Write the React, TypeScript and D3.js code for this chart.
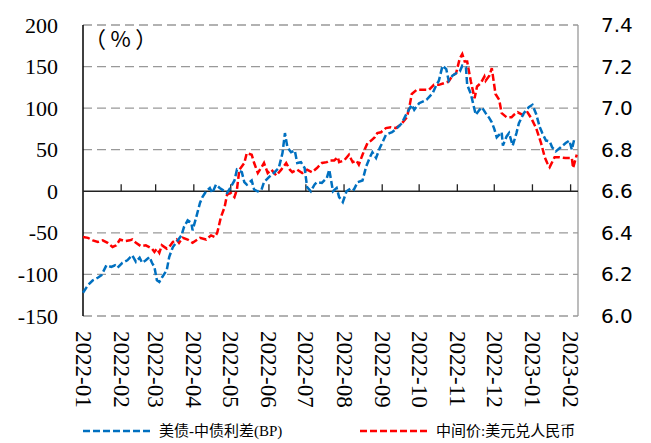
import React from "react";
import * as d3 from "d3";

const monthLabels = ["2022-01","2022-02","2022-03","2022-04","2022-05","2022-06","2022-07","2022-08","2022-09","2022-10","2022-11","2022-12","2023-01","2023-02"];
const leftTicks = [-150, -100, -50, 0, 50, 100, 150, 200];
const rightTicks = [6.0, 6.2, 6.4, 6.6, 6.8, 7.0, 7.2, 7.4];

const spreadDates = [
"2022-01-01","2022-01-05","2022-01-09","2022-01-13","2022-01-16","2022-01-20","2022-01-24","2022-01-27","2022-01-29","2022-02-02","2022-02-06","2022-02-10","2022-02-13","2022-02-16","2022-02-18","2022-02-21","2022-02-24","2022-02-26","2022-02-28",
"2022-03-02","2022-03-04","2022-03-06","2022-03-10","2022-03-12","2022-03-15","2022-03-18","2022-03-22","2022-03-24","2022-03-27","2022-03-30","2022-03-31",
"2022-04-03","2022-04-06","2022-04-08","2022-04-11","2022-04-14","2022-04-16","2022-04-19","2022-04-22","2022-04-26","2022-04-28",
"2022-05-01","2022-05-04","2022-05-06","2022-05-10","2022-05-12","2022-05-14","2022-05-18","2022-05-20","2022-05-23","2022-05-26","2022-05-28",
"2022-06-01","2022-06-05","2022-06-09","2022-06-12","2022-06-14","2022-06-16","2022-06-19","2022-06-22","2022-06-24","2022-06-27","2022-06-30",
"2022-07-02","2022-07-05","2022-07-08","2022-07-10","2022-07-14","2022-07-18","2022-07-20","2022-07-23","2022-07-26","2022-07-28","2022-07-31",
"2022-08-03","2022-08-07","2022-08-09","2022-08-12","2022-08-16","2022-08-19","2022-08-22","2022-08-24","2022-08-27","2022-08-30",
"2022-09-01","2022-09-04","2022-09-07","2022-09-09","2022-09-13","2022-09-17","2022-09-21","2022-09-25","2022-09-27",
"2022-10-01","2022-10-07","2022-10-12","2022-10-15","2022-10-17","2022-10-20","2022-10-23","2022-10-25","2022-10-28","2022-10-31",
"2022-11-03","2022-11-05","2022-11-08","2022-11-09","2022-11-12","2022-11-15","2022-11-16","2022-11-19","2022-11-21","2022-11-24","2022-11-27","2022-11-29",
"2022-12-01","2022-12-03","2022-12-07","2022-12-08","2022-12-11","2022-12-13","2022-12-16","2022-12-19","2022-12-21","2022-12-25","2022-12-29",
"2023-01-01","2023-01-04","2023-01-07","2023-01-09","2023-01-12","2023-01-15","2023-01-17","2023-01-20","2023-01-24","2023-01-28","2023-01-31","2023-02-02","2023-02-04"
];
const spreadValues = [
-122,-113,-107,-104,-101,-89,-91,-89,-92,-86,-83,-77,-85,-80,-86,-83,-79,-86,-91,
-107,-109,-104,-95,-79,-67,-61,-53,-43,-35,-38,-47,
-31,-14,-7,0,4,-2,8,4,0,-2,
5,13,26,23,11,8,13,2,0,2,11,
17,22,28,46,70,53,47,49,34,35,28,
5,0,8,11,10,16,26,0,4,-7,-13,
0,4,2,11,13,30,41,47,40,52,
58,68,70,71,76,82,94,104,98,
106,110,118,128,133,151,147,133,139,142,
144,151,149,128,117,98,92,98,101,94,88,83,
75,65,71,55,66,70,55,70,82,94,101,
104,93,77,70,61,60,53,48,53,58,61,50,63
];

const cnyDates = [
"2022-01-01","2022-01-05","2022-01-09","2022-01-13","2022-01-17","2022-01-21","2022-01-25","2022-01-28","2022-01-31","2022-02-04","2022-02-08","2022-02-10","2022-02-13","2022-02-17","2022-02-21","2022-02-26","2022-02-28",
"2022-03-02","2022-03-04","2022-03-06","2022-03-10","2022-03-12","2022-03-15","2022-03-18","2022-03-20","2022-03-23","2022-03-27","2022-03-31",
"2022-04-06","2022-04-11","2022-04-15","2022-04-18","2022-04-20","2022-04-23","2022-04-26","2022-04-28",
"2022-05-01","2022-05-04","2022-05-06","2022-05-08","2022-05-12","2022-05-14","2022-05-18","2022-05-20","2022-05-23","2022-05-26","2022-05-28","2022-05-31",
"2022-06-03","2022-06-07","2022-06-11","2022-06-15","2022-06-18","2022-06-20","2022-06-24","2022-06-28",
"2022-07-02","2022-07-06","2022-07-10","2022-07-14","2022-07-18","2022-07-20","2022-07-24","2022-07-27","2022-07-28",
"2022-08-01","2022-08-05","2022-08-08","2022-08-11","2022-08-13","2022-08-16","2022-08-20","2022-08-23","2022-08-26","2022-08-28","2022-08-31",
"2022-09-04","2022-09-08","2022-09-12","2022-09-16","2022-09-21","2022-09-23","2022-09-25","2022-09-29",
"2022-10-04","2022-10-09","2022-10-13","2022-10-17","2022-10-21","2022-10-25","2022-10-28","2022-10-31",
"2022-11-03","2022-11-05","2022-11-07","2022-11-09","2022-11-12","2022-11-15","2022-11-17","2022-11-20","2022-11-23","2022-11-24","2022-11-27","2022-11-29",
"2022-12-02","2022-12-05","2022-12-07","2022-12-11","2022-12-15","2022-12-17","2022-12-20","2022-12-24","2022-12-28","2022-12-31",
"2023-01-04","2023-01-08","2023-01-11","2023-01-13","2023-01-15","2023-01-19","2023-01-23","2023-01-28","2023-02-02","2023-02-03","2023-02-06"
];
const cnyValues = [
6.380,6.376,6.364,6.356,6.364,6.352,6.332,6.340,6.368,6.360,6.364,6.368,6.352,6.336,6.340,6.324,6.308,
6.324,6.304,6.340,6.324,6.332,6.356,6.368,6.352,6.376,6.368,6.352,
6.376,6.368,6.388,6.380,6.400,6.476,6.524,6.584,
6.592,6.572,6.608,6.704,6.736,6.784,6.776,6.736,6.688,6.716,6.736,6.688,
6.704,6.676,6.704,6.736,6.704,6.692,6.704,6.688,
6.704,6.692,6.712,6.736,6.740,6.748,6.748,6.764,6.740,
6.748,6.776,6.740,6.748,6.728,6.776,6.832,6.844,6.860,6.880,6.884,
6.904,6.908,6.904,6.920,6.956,7.004,7.068,7.088,
7.088,7.088,7.112,7.112,7.120,7.128,7.156,7.168,
7.240,7.260,7.224,7.224,7.128,7.048,7.104,7.120,7.152,7.132,7.156,7.192,
7.068,7.040,6.976,6.956,6.956,6.968,6.980,6.968,6.980,6.952,
6.904,6.832,6.764,6.736,6.716,6.764,6.764,6.760,6.760,6.712,6.776
];

const legendItems = [
  { label: "美债-中债利差(BP)", color: "#0070C0" },
  { label: "中间价:美元兑人民币", color: "#FF0000" },
];

const W = 651, H = 443;
const L = 83, R = 578, T = 25, B = 316;

export default function App() {
  const parse = d3.timeParse("%Y-%m-%d");
  const x = d3.scaleTime().domain([new Date(2022, 0, 1), new Date(2023, 1, 7)]).range([L, R]);
  const yL = d3.scaleLinear().domain([-150, 200]).range([B, T]);
  const yR = d3.scaleLinear().domain([6.0, 7.4]).range([B, T]);

  const spread = spreadDates.map((d, i) => ({ d: parse(d) as Date, v: spreadValues[i] }));
  const cny = cnyDates.map((d, i) => ({ d: parse(d) as Date, v: cnyValues[i] }));

  const lineL = d3.line<{ d: Date; v: number }>().x(p => x(p.d)).y(p => yL(p.v));
  const lineR = d3.line<{ d: Date; v: number }>().x(p => x(p.d)).y(p => yR(p.v));

  const monthTicks = monthLabels.map(m => parse(m + "-01") as Date);
  const serif = "'Liberation Serif', 'Times New Roman', serif";
  const legendX = [83, 360];

  return (
    <svg width={W} height={H} style={{ position: "fixed", left: 0, top: 0, background: "#fff" }}>
      <rect x={0} y={0} width={W} height={H} fill="#fff" />
      {leftTicks.filter(t => t !== 0).map(t => (
        <line key={"g" + t} x1={L} x2={R} y1={yL(t)} y2={yL(t)} stroke="#999" strokeWidth={1.3} strokeDasharray="9 5" />
      ))}
      <line x1={L} x2={L} y1={T} y2={B} stroke="#000" strokeWidth={1.5} />
      <line x1={R} x2={R} y1={T} y2={B} stroke="#999" strokeWidth={1.3} />
      <line x1={L} x2={R} y1={yL(0)} y2={yL(0)} stroke="#222" strokeWidth={1.5} />
      {monthTicks.slice(1).map((d, i) => (
        <line key={"t" + i} x1={x(d)} x2={x(d)} y1={yL(0)} y2={yL(0) - 7} stroke="#222" strokeWidth={1.3} />
      ))}
      {leftTicks.map(t => (
        <text key={"l" + t} x={58} y={yL(t)} textAnchor="end" dominantBaseline="central" fontFamily={serif} fontSize={22} fill="#000">{t}</text>
      ))}
      {rightTicks.map(t => (
        <text key={"r" + t} x={601} y={yR(t)} textAnchor="start" dominantBaseline="central" fontFamily="'DejaVu Sans', sans-serif" fontSize={20} fill="#000">{t.toFixed(1)}</text>
      ))}
      {monthTicks.map((d, i) => (
        <text key={"m" + i} transform={`translate(${x(d)},331) rotate(90)`} textAnchor="start" dominantBaseline="central" fontFamily={serif} fontSize={23} fill="#000">{monthLabels[i]}</text>
      ))}
      <text x={84} y={47} fontFamily="'Noto Sans CJK SC', sans-serif" fontSize={22} letterSpacing={4.5} fill="#000">（%）</text>
      <path d={lineR(cny) || ""} fill="none" stroke="#FF0000" strokeWidth={2.5} strokeDasharray="7 3" />
      <path d={lineL(spread) || ""} fill="none" stroke="#0070C0" strokeWidth={2.5} strokeDasharray="7 3" />
      {legendItems.map((it, i) => (
        <g key={"lg" + i}>
          <line x1={legendX[i]} x2={legendX[i] + 67} y1={431} y2={431} stroke={it.color} strokeWidth={2.5} strokeDasharray="7 3" />
          <text x={legendX[i] + 76} y={431} dominantBaseline="central" fontFamily={serif + ", 'Noto Sans CJK SC'"} fontSize={15} fill="#000">{it.label}</text>
        </g>
      ))}
    </svg>
  );
}
